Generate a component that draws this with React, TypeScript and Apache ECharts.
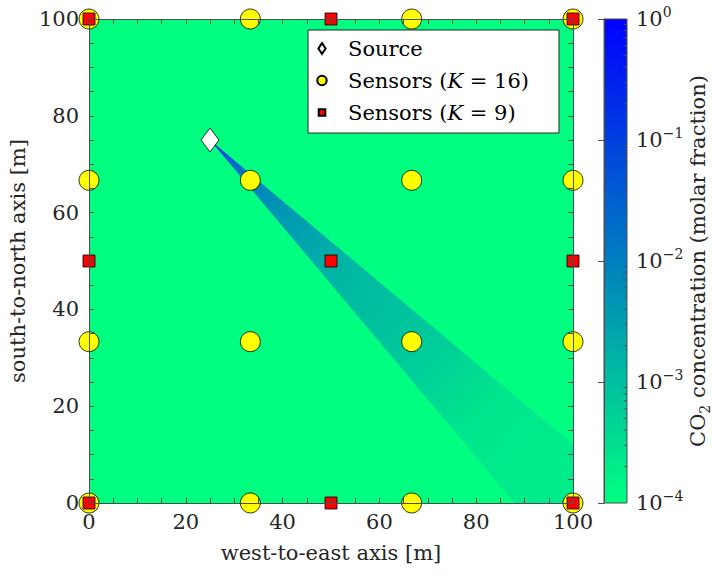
import React, { useEffect, useRef } from "react";
import * as echarts from "echarts";

// ---------- data ----------
const seriesNames = ["Source", "Sensors (K = 16)", "Sensors (K = 9)"];
const sourcePoint: [number, number][] = [[25, 75]];
const sensors16: [number, number][] = [
  [0, 0], [0, 33.33], [0, 66.67], [0, 100],
  [33.33, 0], [33.33, 33.33], [33.33, 66.67], [33.33, 100],
  [66.67, 0], [66.67, 33.33], [66.67, 66.67], [66.67, 100],
  [100, 0], [100, 33.33], [100, 66.67], [100, 100],
];
const sensors9: [number, number][] = [
  [0, 0], [0, 50], [0, 100],
  [50, 0], [50, 50], [50, 100],
  [100, 0], [100, 50], [100, 100],
];
// plume: wind direction and spread (degrees), concentration along the centreline
const plumeDirectionDeg = -45;
const plumeHalfAngleDeg = 5;
const plumeDistance = [0, 1, 3, 6, 10, 20, 40, 60, 80, 100, 125];
const plumeConcentration = [0.6, 0.25, 0.1, 0.03, 0.012, 0.0045, 0.0013, 0.0007, 0.00025, 0.0002, 0.00016];
const backgroundConcentration = 1e-4;
// axes
const axisMin = 0;
const axisMax = 100;
const tickStep = 5;
const labelledTicks = [0, 20, 40, 60, 80, 100];
const colorbarExponents = [-4, -3, -2, -1, 0];
const minorTickMultipliers = [2, 3, 4, 5, 6, 7, 8, 9];
// colormap (low -> high concentration)
const colormapLow = [0, 255, 128];
const colormapHigh = [0, 0, 255];

const FONT = "DejaVu Serif";
const FS = 21;
const FS_SMALL = 14;
const TEXT = "#262626";
const AXIS = "#4d4d4d";

function colormap(c: number): string {
  const lo = colorbarExponents[0];
  const hi = colorbarExponents[colorbarExponents.length - 1];
  let t = (Math.log10(c) - lo) / (hi - lo);
  t = Math.max(0, Math.min(1, t));
  const rgb = colormapLow.map((v, i) => Math.round(v + (colormapHigh[i] - v) * t));
  return `rgb(${rgb[0]},${rgb[1]},${rgb[2]})`;
}

const minorTickValues: number[] = [];
for (let i = 0; i < colorbarExponents.length - 1; i++) {
  for (const m of minorTickMultipliers) minorTickValues.push(colorbarExponents[i] + Math.log10(m));
}

const diamondIcon = "path://M0 0M6 0.6L9.6 6L6 11.4L2.4 6ZM12 12";
const circleIcon = "path://M0 0M1.3 6A4.7 4.7 0 1 1 10.7 6A4.7 4.7 0 1 1 1.3 6ZM12 12";
const squareIcon = "path://M0 0M2.7 2.7H9.3V9.3H2.7ZM12 12";

export default function App() {
  const ref = useRef<HTMLDivElement>(null);

  useEffect(() => {
    if (!ref.current) return;
    const chart = echarts.init(ref.current, undefined, { renderer: "svg" });

    const mainAxisCommon = {
      type: "value",
      min: axisMin,
      max: axisMax,
      interval: tickStep,
      gridIndex: 0,
      z: 3,
      splitLine: { show: false },
      axisLine: { show: true, onZero: false, lineStyle: { color: AXIS, width: 1 } },
      axisTick: { show: true, inside: true, length: 5, lineStyle: { color: AXIS, width: 1 } },
    };
    const labelFmt = (v: number) => (labelledTicks.includes(v) ? String(v) : "");

    const option: any = {
      animation: false,
      backgroundColor: "#ffffff",
      textStyle: { fontFamily: FONT },
      grid: [
        { left: 89, top: 19, width: 484, height: 484, show: true, borderWidth: 0, backgroundColor: colormap(backgroundConcentration), outerBoundsMode: "none", containLabel: false },
        { left: 604, top: 19, width: 23, height: 484, show: false, outerBoundsMode: "none", containLabel: false },
      ],
      xAxis: [
        {
          ...mainAxisCommon,
          position: "bottom",
          axisLabel: { formatter: labelFmt, margin: 8, color: TEXT, fontFamily: FONT, fontSize: FS },
          name: "west-to-east axis [m]",
          nameLocation: "middle",
          nameGap: 39,
          nameTextStyle: { color: TEXT, fontFamily: FONT, fontSize: FS },
        },
        { ...mainAxisCommon, position: "top", axisLabel: { show: false } },
        { type: "value", gridIndex: 1, min: 0, max: 1, show: false },
      ],
      yAxis: [
        {
          ...mainAxisCommon,
          position: "left",
          axisLabel: { formatter: labelFmt, margin: 10, color: TEXT, fontFamily: FONT, fontSize: FS },
          name: "south-to-north axis [m]",
          nameLocation: "middle",
          nameGap: 56,
          nameTextStyle: { color: TEXT, fontFamily: FONT, fontSize: FS },
        },
        { ...mainAxisCommon, position: "right", axisLabel: { show: false } },
        {
          type: "value",
          gridIndex: 1,
          position: "right",
          min: colorbarExponents[0],
          max: colorbarExponents[colorbarExponents.length - 1],
          interval: 1,
          z: 3,
          splitLine: { show: false },
          axisLine: { show: true, lineStyle: { color: AXIS, width: 1 } },
          axisTick: { show: true, inside: true, length: 6, lineStyle: { color: AXIS, width: 1 } },
          axisLabel: {
            margin: 9,
            color: TEXT,
            fontFamily: FONT,
            formatter: (v: number) => `{b|10}{s|${v === 0 ? "0" : "\u2212" + Math.abs(v)}}`,
            rich: {
              b: { fontFamily: FONT, fontSize: FS, color: TEXT, lineHeight: 28, verticalAlign: "middle" },
              s: { fontFamily: FONT, fontSize: FS_SMALL, color: TEXT, lineHeight: 13, verticalAlign: "top" },
            },
          },
          name: "{n|CO}{sub|2}{n| concentration (molar fraction)}",
          nameLocation: "middle",
          nameRotate: 90,
          nameGap: 48,
          nameTextStyle: {
            fontFamily: FONT,
            rich: {
              n: { fontFamily: FONT, fontSize: FS, color: TEXT, lineHeight: 28, verticalAlign: "middle" },
              sub: { fontFamily: FONT, fontSize: FS_SMALL, color: TEXT, lineHeight: 19, verticalAlign: "bottom" },
            },
          },
        },
      ],
      legend: {
        show: true,
        orient: "vertical",
        left: 308,
        top: 30,
        padding: [6, 30, 8, 7],
        itemGap: 7,
        itemWidth: 42,
        itemHeight: 12,
        symbolKeepAspect: true,
        backgroundColor: "#ffffff",
        borderColor: "#262626",
        borderWidth: 1,
        borderRadius: 0,
        selectedMode: false,
        z: 6,
        data: [
          { name: seriesNames[0], icon: diamondIcon },
          { name: seriesNames[1], icon: circleIcon },
          { name: seriesNames[2], icon: squareIcon },
        ],
        formatter: (name: string) => {
          const parts = name.split("K");
          if (parts.length === 2) return `{n|${parts[0]}}{i|K}{n|${parts[1]}}`;
          return `{n|${name}}`;
        },
        textStyle: {
          color: "#000",
          fontFamily: FONT,
          fontSize: FS,
          lineHeight: 25,
          rich: {
            n: { fontFamily: FONT, fontSize: FS, color: "#000", lineHeight: 25 },
            i: { fontFamily: FONT, fontSize: FS, color: "#000", fontStyle: "italic", lineHeight: 25 },
          },
        },
      },
      series: [
        {
          name: "plume",
          type: "custom",
          xAxisIndex: 0,
          yAxisIndex: 0,
          clip: true,
          z: 1,
          silent: true,
          data: sourcePoint,
          encode: { x: 0, y: 1 },
          renderItem: (_p: any, api: any) => {
            const sx = api.value(0);
            const sy = api.value(1);
            const dmax = plumeDistance[plumeDistance.length - 1];
            const dir = (plumeDirectionDeg * Math.PI) / 180;
            const half = (plumeHalfAngleDeg * Math.PI) / 180;
            const reach = dmax / Math.cos(half);
            const p0 = api.coord([sx, sy]);
            const p1 = api.coord([sx + reach * Math.cos(dir + half), sy + reach * Math.sin(dir + half)]);
            const p2 = api.coord([sx + reach * Math.cos(dir - half), sy + reach * Math.sin(dir - half)]);
            const pe = api.coord([sx + dmax * Math.cos(dir), sy + dmax * Math.sin(dir)]);
            const stops = plumeDistance.map((d, i) => ({ offset: d / dmax, color: colormap(plumeConcentration[i]) }));
            return {
              type: "polygon",
              shape: { points: [p0, p1, p2] },
              style: { fill: new echarts.graphic.LinearGradient(p0[0], p0[1], pe[0], pe[1], stops, true) },
            };
          },
        },
        {
          name: seriesNames[1],
          type: "scatter",
          xAxisIndex: 0,
          yAxisIndex: 0,
          clip: false,
          z: 2,
          symbol: "circle",
          symbolSize: 20,
          itemStyle: { color: "#ffff00", borderColor: "#000", borderWidth: 0.8, opacity: 1 },
          data: sensors16,
        },
        {
          name: seriesNames[2],
          type: "scatter",
          xAxisIndex: 0,
          yAxisIndex: 0,
          clip: false,
          z: 2,
          symbol: "rect",
          symbolSize: 12,
          itemStyle: { color: "#ff0000", borderColor: "#000", borderWidth: 0.8, opacity: 1 },
          data: sensors9,
        },
        {
          name: seriesNames[0],
          type: "scatter",
          xAxisIndex: 0,
          yAxisIndex: 0,
          clip: false,
          z: 2,
          symbol: "diamond",
          symbolSize: [18, 24],
          itemStyle: { color: "#ffffff", borderColor: "#000", borderWidth: 0.8, opacity: 1 },
          data: sourcePoint,
        },
        {
          name: "colorbar",
          type: "custom",
          xAxisIndex: 2,
          yAxisIndex: 2,
          z: 1,
          silent: true,
          data: [[0, colorbarExponents[0]]],
          renderItem: (_p: any, api: any) => {
            const lo = colorbarExponents[0];
            const hi = colorbarExponents[colorbarExponents.length - 1];
            const a = api.coord([0, hi]);
            const b = api.coord([1, lo]);
            return {
              type: "rect",
              shape: { x: a[0], y: a[1], width: b[0] - a[0], height: b[1] - a[1] },
              style: {
                fill: new echarts.graphic.LinearGradient(0, 0, 0, 1, [
                  { offset: 0, color: colormap(Math.pow(10, hi)) },
                  { offset: 1, color: colormap(Math.pow(10, lo)) },
                ]),
                stroke: AXIS,
                lineWidth: 1,
              },
            };
          },
        },
        {
          name: "colorbarMinorTicks",
          type: "custom",
          xAxisIndex: 2,
          yAxisIndex: 2,
          z: 4,
          silent: true,
          data: minorTickValues.map((v) => [1, v]),
          renderItem: (_p: any, api: any) => {
            const p = api.coord([1, api.value(1)]);
            return {
              type: "line",
              shape: { x1: p[0] - 3.5, y1: p[1], x2: p[0], y2: p[1] },
              style: { stroke: AXIS, lineWidth: 1 },
            };
          },
        },
      ],
    };

    chart.setOption(option);
    return () => chart.dispose();
  }, []);

  return (
    <div
      ref={ref}
      style={{ position: "absolute", left: 0, top: 0, width: 712, height: 578, background: "#fff" }}
    />
  );
}
